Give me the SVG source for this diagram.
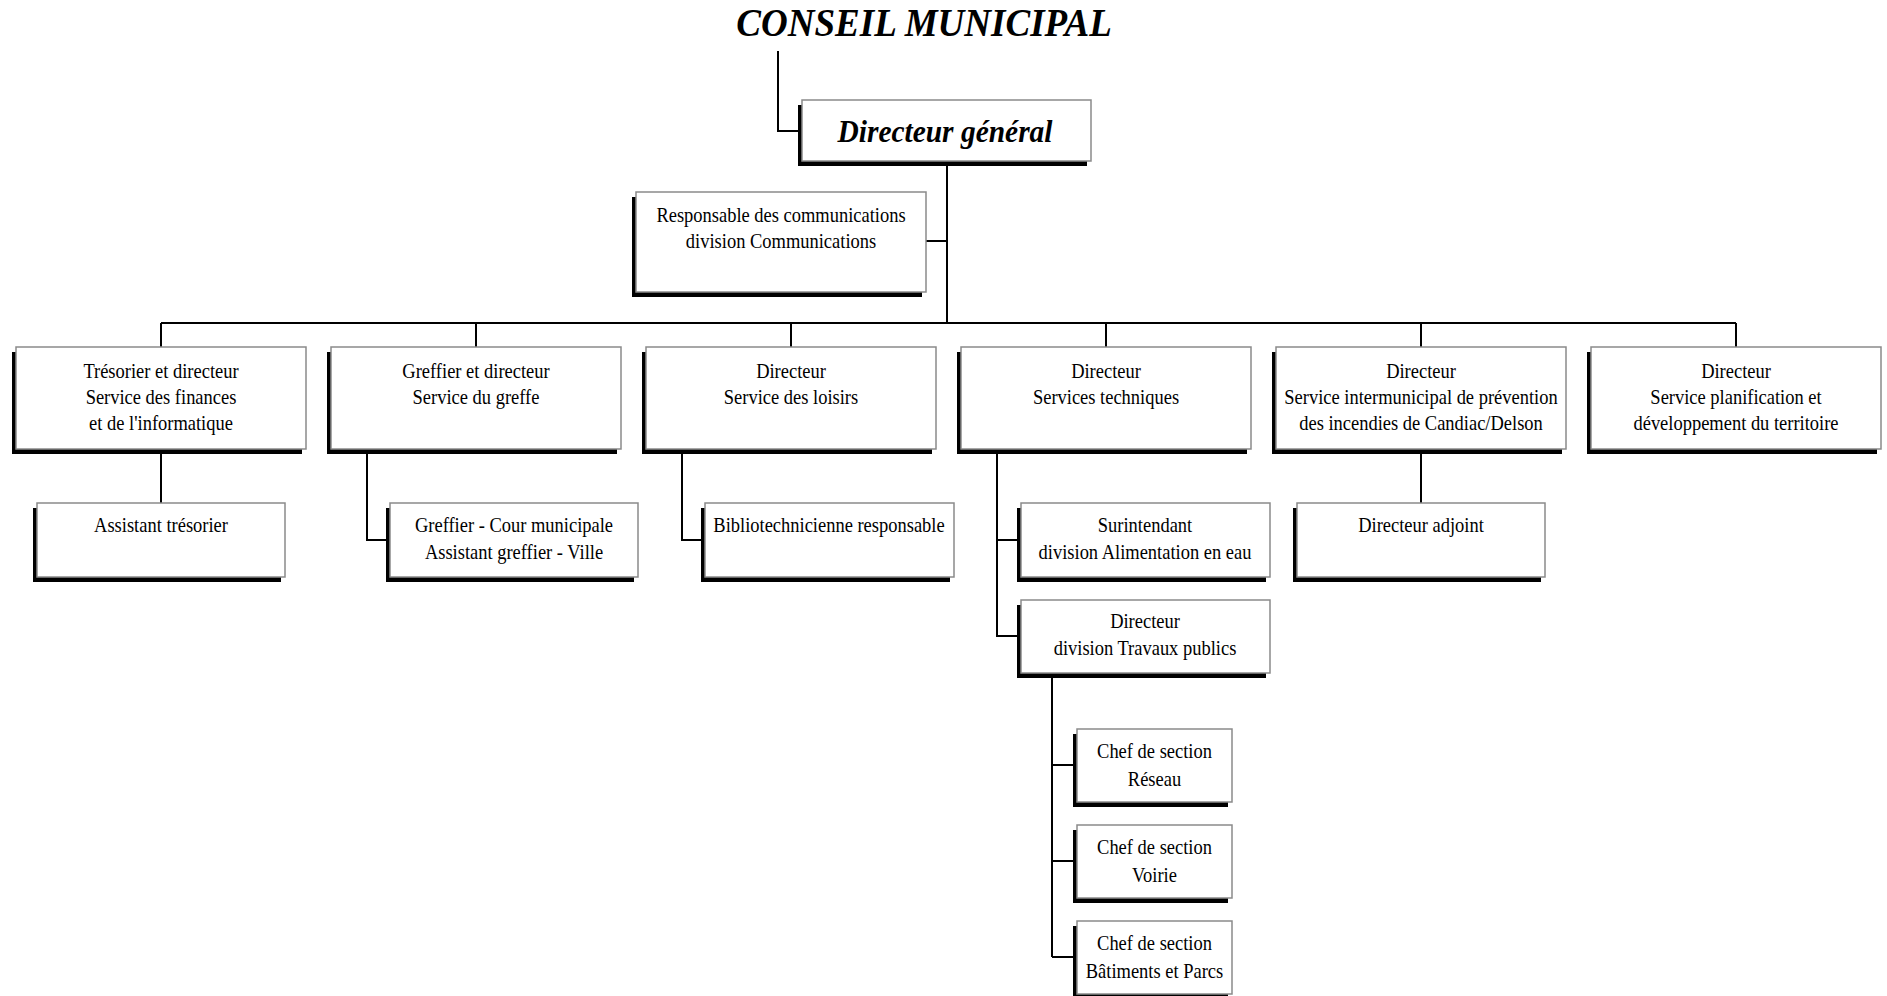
<svg xmlns="http://www.w3.org/2000/svg" width="1887" height="996" viewBox="0 0 1887 996">
<style>
.bg{fill:#fff}
.sh{fill:#000}
.bx{fill:#fff;stroke:#8a8a8a;stroke-width:1.5}
.cn{fill:none;stroke:#000;stroke-width:2}
.t{font-family:"Liberation Serif","Times New Roman",serif;font-size:21px;fill:#000;text-anchor:middle}
.tb{font-family:"Liberation Serif","Times New Roman",serif;font-weight:bold;font-style:italic;fill:#000;text-anchor:middle}
</style>
<rect class="bg" x="0" y="0" width="1887" height="996"/>

<g id="connectors">
  <polyline class="cn" points="778,51 778,131 802,131"/>
  <line class="cn" x1="947" y1="161" x2="947" y2="323"/>
  <line class="cn" x1="926" y1="241" x2="947" y2="241"/>
  <line class="cn" x1="161" y1="323" x2="1736" y2="323"/>
  <line class="cn" x1="161" y1="323" x2="161" y2="347"/>
  <line class="cn" x1="476" y1="323" x2="476" y2="347"/>
  <line class="cn" x1="791" y1="323" x2="791" y2="347"/>
  <line class="cn" x1="1106" y1="323" x2="1106" y2="347"/>
  <line class="cn" x1="1421" y1="323" x2="1421" y2="347"/>
  <line class="cn" x1="1736" y1="323" x2="1736" y2="347"/>
  <line class="cn" x1="161" y1="449" x2="161" y2="503"/>
  <polyline class="cn" points="367,449 367,540 390,540"/>
  <polyline class="cn" points="682,449 682,540 705,540"/>
  <polyline class="cn" points="997,449 997,636 1021,636"/>
  <line class="cn" x1="997" y1="540" x2="1021" y2="540"/>
  <line class="cn" x1="1421" y1="449" x2="1421" y2="503"/>
  <line class="cn" x1="1052" y1="673" x2="1052" y2="957"/>
  <line class="cn" x1="1052" y1="765" x2="1077" y2="765"/>
  <line class="cn" x1="1052" y1="861" x2="1077" y2="861"/>
  <line class="cn" x1="1052" y1="957" x2="1077" y2="957"/>
</g>

<g id="conseil">
  <text class="tb" font-size="39" transform="translate(924,36) scale(0.95,1)">CONSEIL MUNICIPAL</text>
</g>

<g id="dg">
  <rect class="sh" x="798" y="105" width="289" height="61"/>
  <rect class="bx" x="802" y="100" width="289" height="61"/>
  <text class="tb" font-size="31" transform="translate(945,142) scale(0.95,1)">Directeur général</text>
</g>

<g id="communications">
  <rect class="sh" x="632" y="197" width="290" height="100"/>
  <rect class="bx" x="636" y="192" width="290" height="100"/>
  <text class="t" transform="translate(781,222) scale(0.88,1)"><tspan x="0" y="0">Responsable des communications</tspan><tspan x="0" y="26">division Communications</tspan></text>
</g>

<g id="tresorier">
  <rect class="sh" x="12" y="352" width="290" height="102"/>
  <rect class="bx" x="16" y="347" width="290" height="102"/>
  <text class="t" transform="translate(161,378) scale(0.88,1)"><tspan x="0" y="0">Trésorier et directeur</tspan><tspan x="0" y="26">Service des finances</tspan><tspan x="0" y="52">et de l'informatique</tspan></text>
</g>

<g id="greffier">
  <rect class="sh" x="327" y="352" width="290" height="102"/>
  <rect class="bx" x="331" y="347" width="290" height="102"/>
  <text class="t" transform="translate(476,378) scale(0.88,1)"><tspan x="0" y="0">Greffier et directeur</tspan><tspan x="0" y="26">Service du greffe</tspan></text>
</g>

<g id="loisirs">
  <rect class="sh" x="642" y="352" width="290" height="102"/>
  <rect class="bx" x="646" y="347" width="290" height="102"/>
  <text class="t" transform="translate(791,378) scale(0.88,1)"><tspan x="0" y="0">Directeur</tspan><tspan x="0" y="26">Service des loisirs</tspan></text>
</g>

<g id="techniques">
  <rect class="sh" x="957" y="352" width="290" height="102"/>
  <rect class="bx" x="961" y="347" width="290" height="102"/>
  <text class="t" transform="translate(1106,378) scale(0.88,1)"><tspan x="0" y="0">Directeur</tspan><tspan x="0" y="26">Services techniques</tspan></text>
</g>

<g id="incendies">
  <rect class="sh" x="1272" y="352" width="290" height="102"/>
  <rect class="bx" x="1276" y="347" width="290" height="102"/>
  <text class="t" transform="translate(1421,378) scale(0.88,1)"><tspan x="0" y="0">Directeur</tspan><tspan x="0" y="26">Service intermunicipal de prévention</tspan><tspan x="0" y="52">des incendies de Candiac/Delson</tspan></text>
</g>

<g id="planification">
  <rect class="sh" x="1587" y="352" width="290" height="102"/>
  <rect class="bx" x="1591" y="347" width="290" height="102"/>
  <text class="t" transform="translate(1736,378) scale(0.88,1)"><tspan x="0" y="0">Directeur</tspan><tspan x="0" y="26">Service planification et</tspan><tspan x="0" y="52">développement du territoire</tspan></text>
</g>

<g id="assistant-tresorier">
  <rect class="sh" x="33" y="508" width="248" height="74"/>
  <rect class="bx" x="37" y="503" width="248" height="74"/>
  <text class="t" transform="translate(161,532) scale(0.88,1)">Assistant trésorier</text>
</g>

<g id="greffier-cour">
  <rect class="sh" x="386" y="508" width="248" height="74"/>
  <rect class="bx" x="390" y="503" width="248" height="74"/>
  <text class="t" transform="translate(514,532) scale(0.88,1)"><tspan x="0" y="0">Greffier - Cour municipale</tspan><tspan x="0" y="27">Assistant greffier - Ville</tspan></text>
</g>

<g id="bibliotechnicienne">
  <rect class="sh" x="701" y="508" width="249" height="74"/>
  <rect class="bx" x="705" y="503" width="249" height="74"/>
  <text class="t" transform="translate(829,532) scale(0.88,1)">Bibliotechnicienne responsable</text>
</g>

<g id="surintendant">
  <rect class="sh" x="1017" y="508" width="249" height="74"/>
  <rect class="bx" x="1021" y="503" width="249" height="74"/>
  <text class="t" transform="translate(1145,532) scale(0.88,1)"><tspan x="0" y="0">Surintendant</tspan><tspan x="0" y="27">division Alimentation en eau</tspan></text>
</g>

<g id="travaux-publics">
  <rect class="sh" x="1017" y="605" width="249" height="73"/>
  <rect class="bx" x="1021" y="600" width="249" height="73"/>
  <text class="t" transform="translate(1145,628) scale(0.88,1)"><tspan x="0" y="0">Directeur</tspan><tspan x="0" y="27">division Travaux publics</tspan></text>
</g>

<g id="directeur-adjoint">
  <rect class="sh" x="1293" y="508" width="248" height="74"/>
  <rect class="bx" x="1297" y="503" width="248" height="74"/>
  <text class="t" transform="translate(1421,532) scale(0.88,1)">Directeur adjoint</text>
</g>

<g id="chef-reseau">
  <rect class="sh" x="1073" y="734" width="155" height="73"/>
  <rect class="bx" x="1077" y="729" width="155" height="73"/>
  <text class="t" transform="translate(1154.5,758) scale(0.88,1)"><tspan x="0" y="0">Chef de section</tspan><tspan x="0" y="28">Réseau</tspan></text>
</g>

<g id="chef-voirie">
  <rect class="sh" x="1073" y="830" width="155" height="73"/>
  <rect class="bx" x="1077" y="825" width="155" height="73"/>
  <text class="t" transform="translate(1154.5,854) scale(0.88,1)"><tspan x="0" y="0">Chef de section</tspan><tspan x="0" y="28">Voirie</tspan></text>
</g>

<g id="chef-batiments">
  <rect class="sh" x="1073" y="926" width="155" height="73"/>
  <rect class="bx" x="1077" y="921" width="155" height="73"/>
  <text class="t" transform="translate(1154.5,950) scale(0.88,1)"><tspan x="0" y="0">Chef de section</tspan><tspan x="0" y="28">Bâtiments et Parcs</tspan></text>
</g>
</svg>
